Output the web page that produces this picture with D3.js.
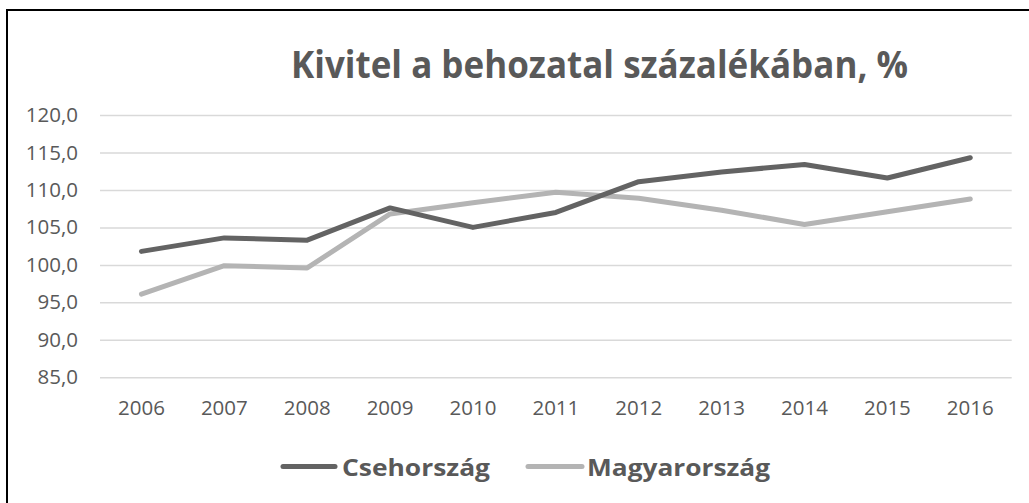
<!DOCTYPE html>
<html><head><meta charset="utf-8">
<script src="https://cdnjs.cloudflare.com/ajax/libs/d3/7.8.5/d3.min.js"></script>
<style>html,body{margin:0;padding:0;background:#fff;overflow:hidden}svg{display:block}</style>
</head><body><svg id="c" width="1029" height="503"></svg>
<script>
const years = ["2006","2007","2008","2009","2010","2011","2012","2013","2014","2015","2016"];
const cseh = [101.8,103.6,103.3,107.6,105.0,107.0,111.1,112.4,113.4,111.6,114.3];
const magyar = [96.1,99.9,99.6,106.8,108.3,109.7,108.9,107.3,105.4,107.1,108.8];
const yTicks = [85,90,95,100,105,110,115,120];
const seriesNames = ["Csehország","Magyarország"];
const seriesColors = ["#636363","#b4b4b4"];
const titleText = "Kivitel a behozatal százalékában, %";

const svg = d3.select("#c");
const font = "'Open Sans', sans-serif";
svg.append("rect").attr("x",7).attr("y",10).attr("width",1040).attr("height",520)
  .attr("fill","#fff").attr("stroke","#000").attr("stroke-width",2);

svg.append("text").attr("x",291).attr("y",78).attr("font-family",font).attr("font-weight","bold")
  .attr("font-size",37).attr("fill","#595959").attr("textLength",617).attr("lengthAdjust","spacingAndGlyphs")
  .text(titleText);

const x = d3.scaleBand().domain(years).range([100,1011.7]);
const y = d3.scaleLinear().domain([85,120]).range([377.3,115]);

const fmt = v => d3.format(".1f")(v).replace(".",",");
const yAxis = svg.append("g").attr("transform","translate(100,0)")
  .call(d3.axisLeft(y).tickValues(yTicks).tickSize(-911.7).tickFormat(fmt).tickPadding(22));
yAxis.select(".domain").remove();
yAxis.selectAll("line").attr("stroke","#d9d9d9").attr("stroke-width",1.5);
yAxis.selectAll("text").attr("font-family",font).attr("font-size",20.5).attr("fill","#595959");

const xAxis = svg.append("g").attr("transform","translate(0,377.3)")
  .call(d3.axisBottom(x).tickSize(0).tickPadding(23));
xAxis.select(".domain").remove();
xAxis.selectAll("text").attr("font-family",font).attr("font-size",20.5).attr("fill","#595959");

const line = d3.line().x((d,i)=>x(years[i])+x.bandwidth()/2).y(d=>y(d));
[magyar, cseh].forEach((s)=>{
  const idx = s===cseh?0:1;
  svg.append("path").datum(s).attr("d",line).attr("fill","none")
    .attr("stroke",seriesColors[idx]).attr("stroke-width",5)
    .attr("stroke-linejoin","round").attr("stroke-linecap","round");
});

const legendItems = [{x1:283,x2:335,tx:342,w:148},{x1:528,x2:582,tx:587,w:183}];
legendItems.forEach((it,i)=>{
  svg.append("line").attr("x1",it.x1).attr("x2",it.x2).attr("y1",466.5).attr("y2",466.5)
    .attr("stroke",seriesColors[i]).attr("stroke-width",5).attr("stroke-linecap","round");
  svg.append("text").attr("x",it.tx).attr("y",475.5).attr("font-family",font).attr("font-weight","bold")
    .attr("font-size",24).attr("fill","#595959").attr("textLength",it.w).attr("lengthAdjust","spacingAndGlyphs")
    .text(seriesNames[i]);
});
</script></body></html>
